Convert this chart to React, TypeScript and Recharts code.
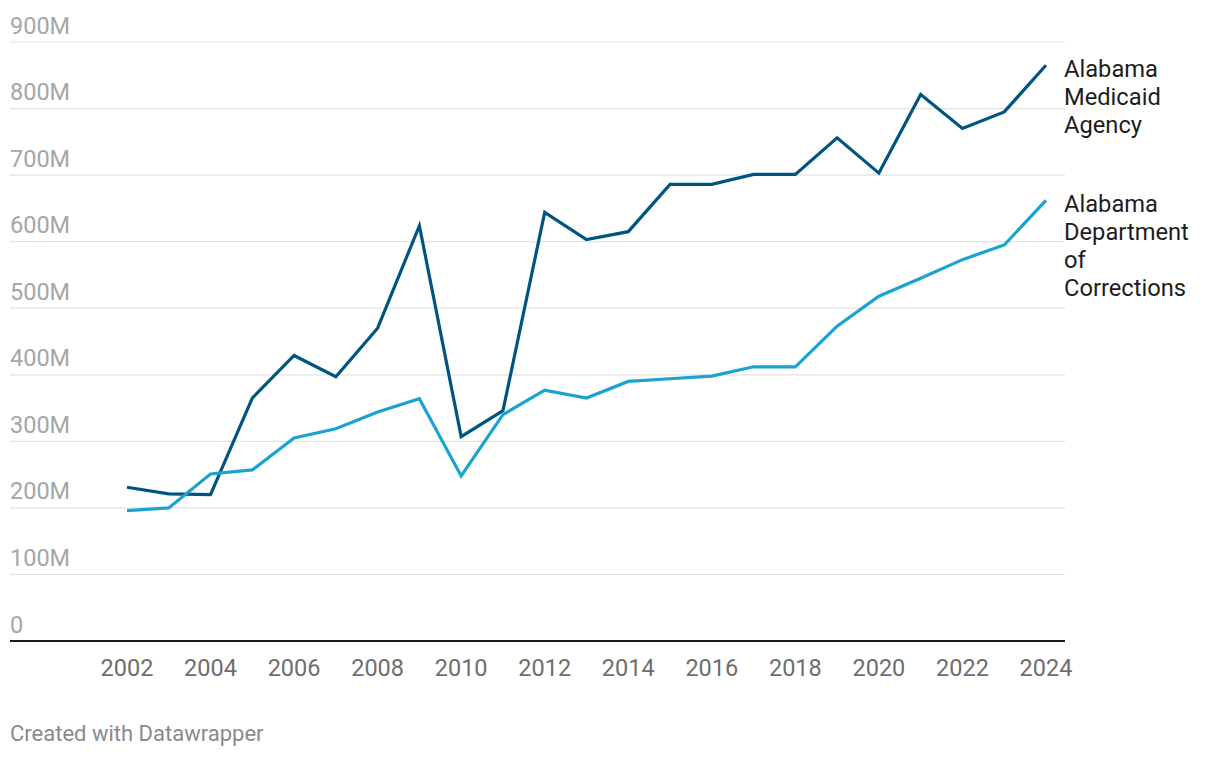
import React from "react";
import { LineChart, Line, XAxis, YAxis, CartesianGrid } from "recharts";

const years = [2002, 2003, 2004, 2005, 2006, 2007, 2008, 2009, 2010, 2011, 2012, 2013, 2014, 2015, 2016, 2017, 2018, 2019, 2020, 2021, 2022, 2023, 2024];
const medicaid = [231, 221, 220, 365, 429, 397, 470, 624, 307, 346, 644, 603, 615, 686, 686, 701, 701, 756, 703, 821, 770, 795, 865];
const corrections = [196, 200, 251, 257, 305, 319, 344, 364, 248, 340, 377, 365, 390, 394, 398, 412, 412, 473, 518, 545, 573, 595, 662];
const yTicks = [0, 100, 200, 300, 400, 500, 600, 700, 800, 900];
const xTicks = [2002, 2004, 2006, 2008, 2010, 2012, 2014, 2016, 2018, 2020, 2022, 2024];
const medicaidLabel = ["Alabama", "Medicaid", "Agency"];
const correctionsLabel = ["Alabama", "Department", "of", "Corrections"];

const data = years.map((y, i) => ({ year: y, medicaid: medicaid[i], corrections: corrections[i] }));

const FONT = "Roboto, 'Noto Sans', sans-serif";
const DARK = "#005580";
const LIGHT = "#1ba3d0";

const YTick = (props: any) => {
  const { y, payload } = props;
  const v = payload.value;
  return (
    <text x={10} y={y - 8.5} textAnchor="start" fill="#a6a6a6" fontSize={23.5} fontFamily={FONT}>
      {v === 0 ? "0" : `${v}M`}
    </text>
  );
};

const XTick = (props: any) => {
  const { x, payload } = props;
  return (
    <text x={x} y={641 + 35} textAnchor="middle" fill="#6e6e6e" fontSize={23.5} fontFamily={FONT}>
      {payload.value}
    </text>
  );
};

const makeEndLabel = (lines: string[]) => (props: any) => {
  const { cx, cy, index } = props;
  if (index !== years.length - 1) return <g key={`d-${index}`} />;
  return (
    <text key={`d-${index}`} x={cx + 18} y={cy + 12} fill="#1d1d1d" fontSize={23.7} fontFamily={FONT}>
      {lines.map((l, i) => (
        <tspan key={i} x={cx + 18} dy={i === 0 ? 0 : 28}>
          {l}
        </tspan>
      ))}
    </text>
  );
};

export default function App() {
  return (
    <div style={{ position: "absolute", left: 0, top: 0, width: 1220, height: 758, background: "#fff", fontFamily: FONT }}>
      <LineChart width={1220} height={758} data={data} margin={{ top: 42, right: 155, bottom: 0, left: 0 }}>
        <CartesianGrid vertical={false} stroke="#e2e2e2" strokeWidth={1.2} />
        <XAxis
          dataKey="year"
          type="number"
          domain={[1999.2, 2024.455]}
          ticks={xTicks}
          tick={<XTick />}
          tickLine={false}
          axisLine={{ stroke: "#1a1a1a", strokeWidth: 2 }}
          height={117}
        />
        <YAxis
          type="number"
          domain={[0, 900]}
          ticks={yTicks}
          width={10}
          tick={<YTick />}
          tickLine={false}
          axisLine={false}
          interval={0}
        />
        <Line
          dataKey="medicaid"
          stroke={DARK}
          strokeWidth={3.2}
          dot={makeEndLabel(medicaidLabel)}
          activeDot={false}
          isAnimationActive={false}
        />
        <Line
          dataKey="corrections"
          stroke={LIGHT}
          strokeWidth={3.2}
          dot={makeEndLabel(correctionsLabel)}
          activeDot={false}
          isAnimationActive={false}
        />
      </LineChart>
      <div style={{ position: "absolute", left: 10, top: 720, fontSize: 22, color: "#8a8a8a", fontFamily: FONT, lineHeight: "28px" }}>
        Created with Datawrapper
      </div>
    </div>
  );
}
